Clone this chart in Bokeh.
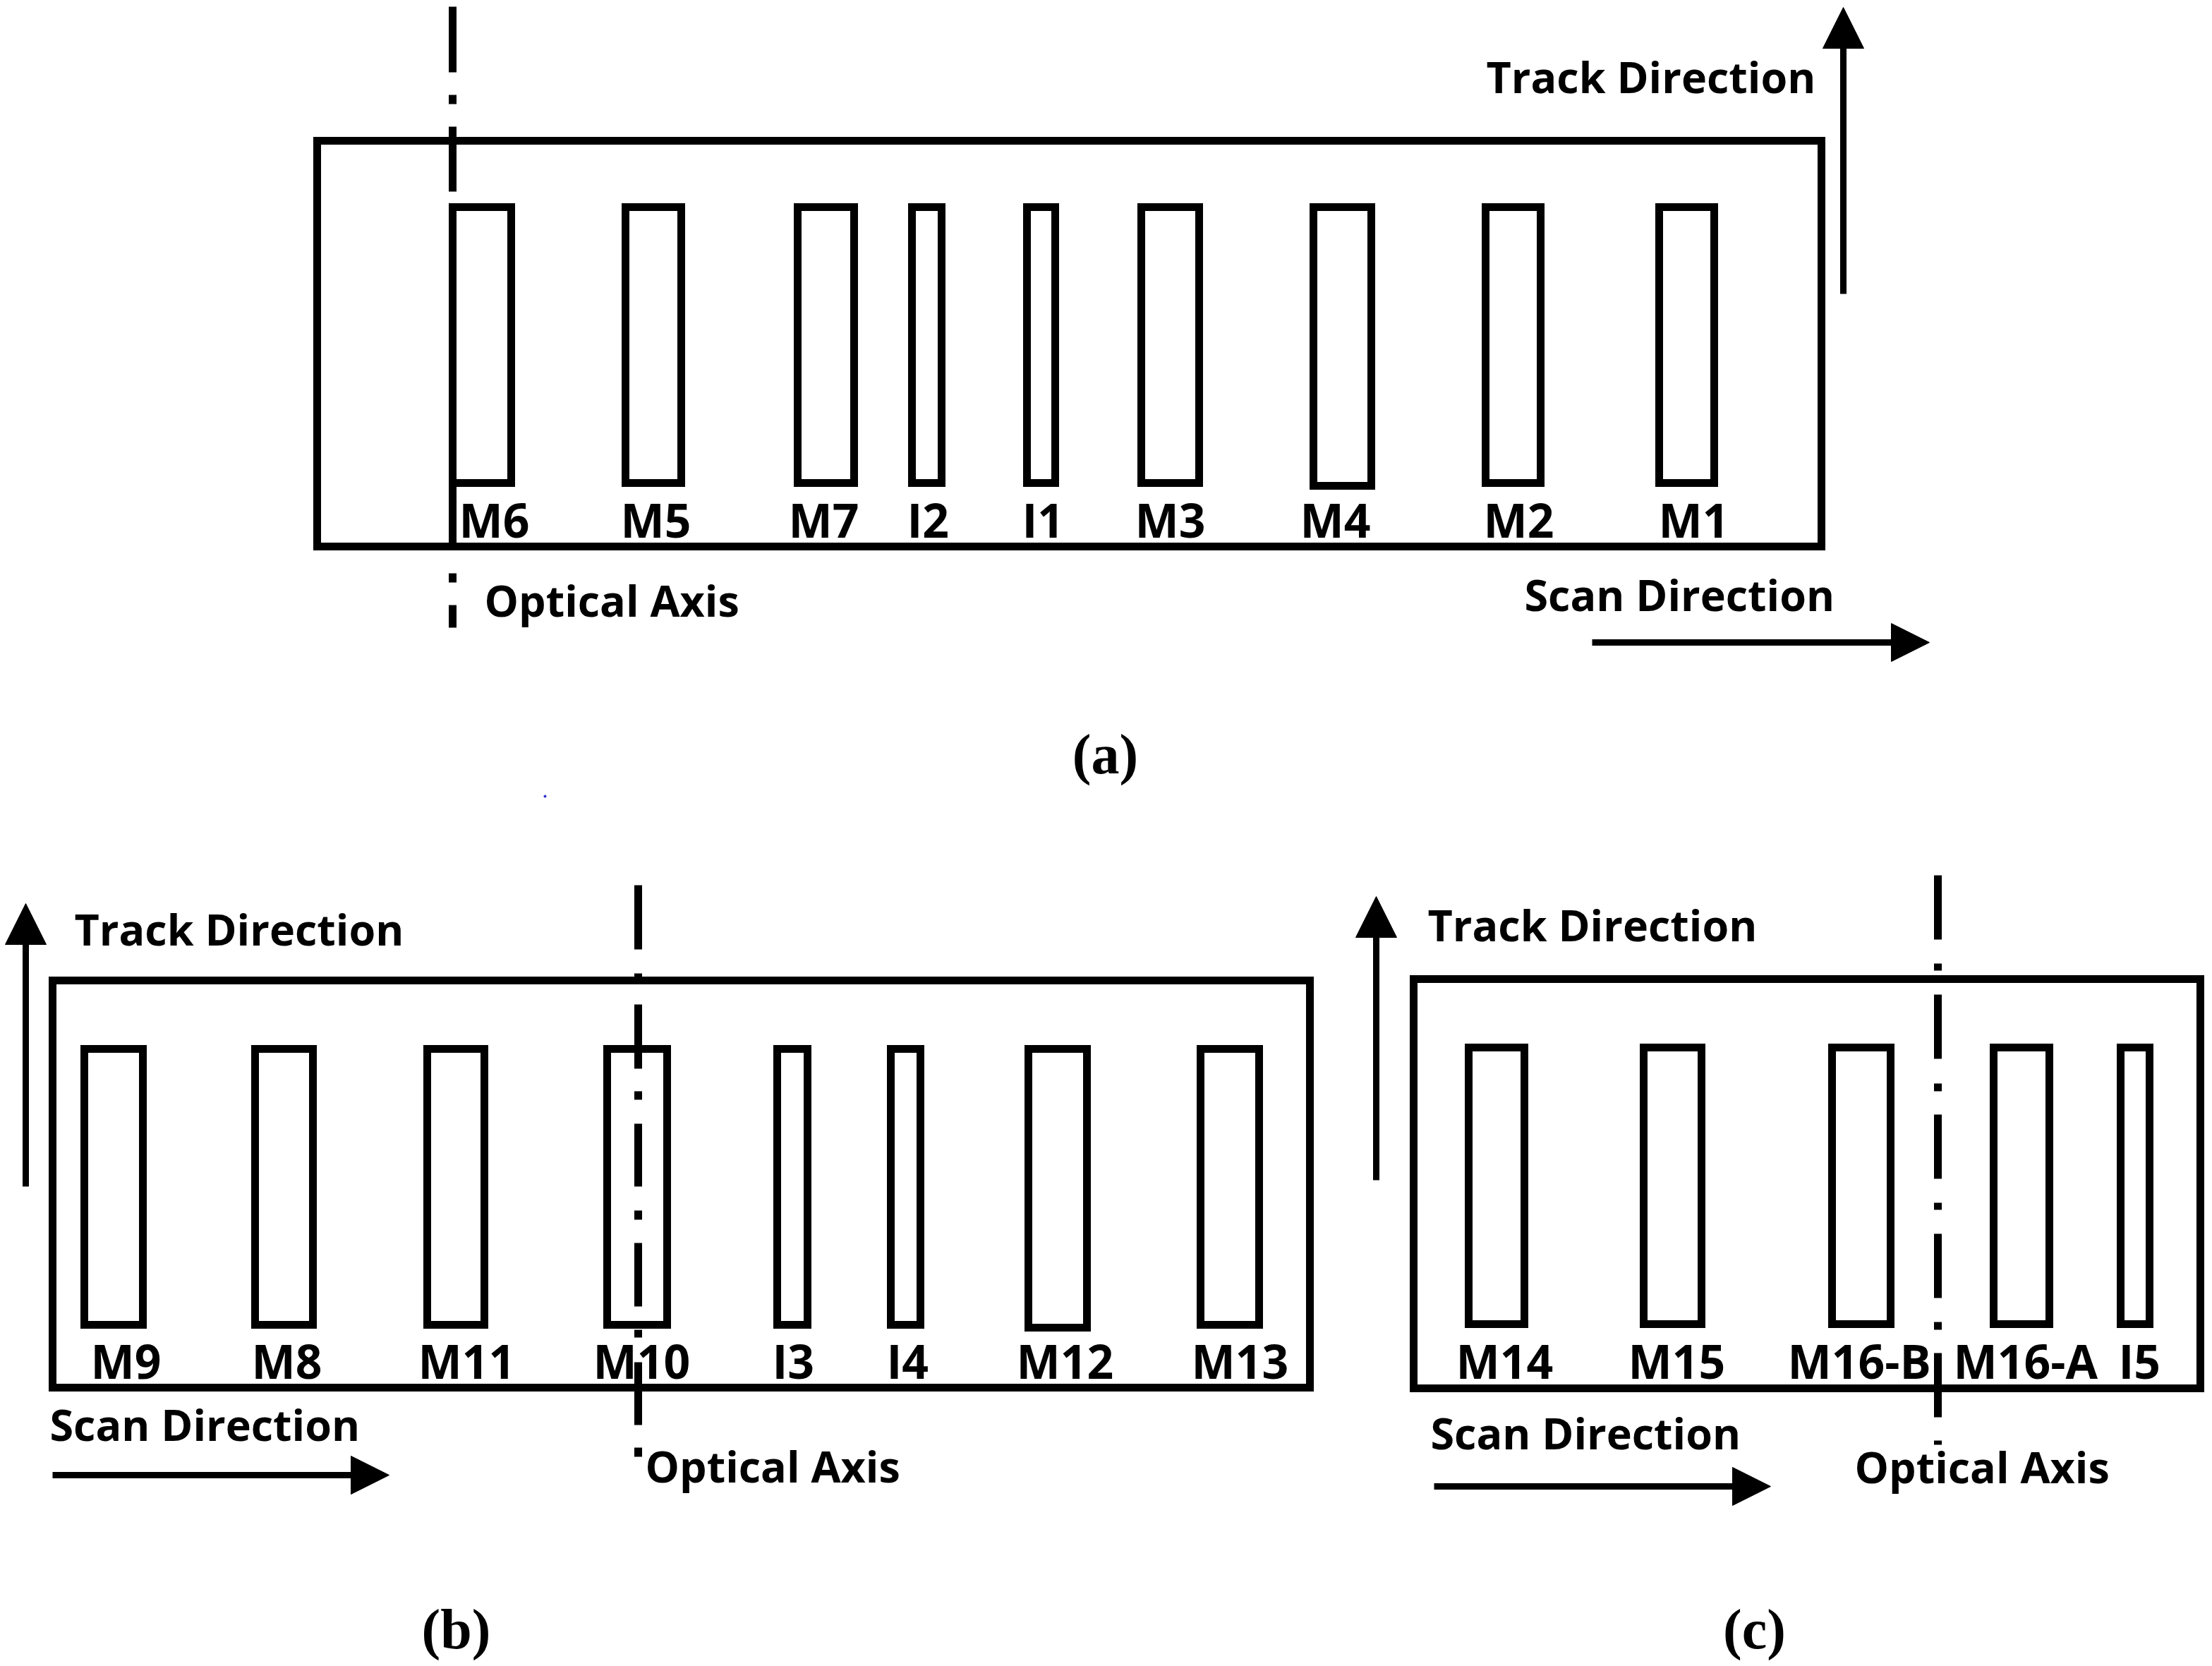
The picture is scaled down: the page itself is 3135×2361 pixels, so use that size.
from bokeh.plotting import figure
from bokeh.models import ColumnDataSource, Arrow, NormalHead
from bokeh.core.properties import value
from bokeh.embed import file_html
from bokeh.resources import INLINE

# Detector strips, per panel
labels_a = ["M6", "M5", "M7", "I2", "I1", "M3", "M4", "M2", "M1"]
left_a = [641, 886, 1130, 1292, 1455, 1617, 1861, 2105, 2351]
right_a = [724, 965, 1210, 1334, 1495, 1699, 1943, 2183, 2429]
bottom_a = [684, 684, 684, 684, 684, 684, 688, 684, 684]
label_x_a = [650, 879, 1117, 1285, 1448, 1608, 1842, 2102, 2350]

labels_b = ["M9", "M8", "M11", "M10", "I3", "I4", "M12", "M13"]
left_b = [119, 361, 605, 860, 1101, 1262, 1457, 1701]
right_b = [202, 443, 686, 945, 1144, 1304, 1540, 1784]
bottom_b = [1877, 1877, 1877, 1877, 1877, 1877, 1881, 1877]
label_x_b = [128, 356, 592, 840, 1094, 1256, 1440, 1688]

labels_c = ["M14", "M15", "M16-B", "M16-A", "I5"]
left_c = [2081, 2329, 2596, 2825, 3005]
right_c = [2160, 2411, 2679, 2904, 3046]
bottom_c = [1876, 1876, 1876, 1876, 1876]
label_x_c = [2063, 2307, 2533, 2768, 3002]

# Focal plane outlines (a, b, c)
plane_left = [449, 74, 2003]
plane_right = [2581, 1856, 3118]
plane_top = [199, 1389, 1387]
plane_bottom = [774, 1966, 1967]
strip_top = [293, 1486, 1484]
label_base = [735, 1927, 1927]

# Optical axis dash-dot pieces
axis_a_x = 641
axis_a_start = [9, 134, 179, 684, 812, 857]
axis_a_end = [102, 147, 271, 774, 825, 889]
axis_b_x = 904
axis_b_start = [1254, 1379, 1423, 1546, 1592, 1715, 1761, 1884, 1930, 2051]
axis_b_end = [1345, 1389, 1514, 1558, 1681, 1728, 1851, 1895, 2019, 2064]
axis_c_x = 2746
axis_c_start = [1240, 1365, 1409, 1535, 1579, 1704, 1748, 1873, 1917, 2041]
axis_c_end = [1331, 1375, 1500, 1546, 1670, 1714, 1839, 1884, 2008, 2047]

# Direction arrows
track_x = [2612, 36, 1950]
track_tail = [416, 1681, 1672]
track_tip = [10, 1280, 1270]
scan_y = [910, 2090, 2106]
scan_tail = [2256, 74, 2032]
scan_tip = [2734, 551, 2509]

# Captions on the diagram
note_text = ["Track Direction", "Scan Direction", "Optical Axis",
             "Track Direction", "Scan Direction", "Optical Axis",
             "Track Direction", "Scan Direction", "Optical Axis"]
note_x = [2106, 2160, 686, 105, 70, 914, 2023, 2027, 2628]
note_y = [108, 842, 850, 1316, 2018, 2077, 1310, 2030, 2078]

panel_text = ["(a)", "(b)", "(c)"]
panel_x = [1566, 646, 2486]
panel_y = [1068, 2308, 2308]

p = figure(width=3127, height=2353, x_range=(0, 3127), y_range=(2353, 0),
           output_backend="svg", toolbar_location=None, min_border=0)
p.axis.visible = False
p.grid.visible = False
p.outline_line_color = None

LW = 11

# optical axis sits under the strips
for ax, start, end in [(axis_a_x, axis_a_start, axis_a_end),
                       (axis_b_x, axis_b_start, axis_b_end),
                       (axis_c_x, axis_c_start, axis_c_end)]:
    p.segment(x0=[ax] * len(start), y0=start, x1=[ax] * len(end), y1=end,
              line_color="black", line_width=LW)

p.quad(left=plane_left, right=plane_right, top=plane_top, bottom=plane_bottom,
       fill_alpha=0, line_color="black", line_width=LW, line_join="miter")

for i, (lf, rt, bt, names, lx) in enumerate([
        (left_a, right_a, bottom_a, labels_a, label_x_a),
        (left_b, right_b, bottom_b, labels_b, label_x_b),
        (left_c, right_c, bottom_c, labels_c, label_x_c)]):
    src = ColumnDataSource(data=dict(left=lf, right=rt, bottom=bt, top=[strip_top[i]] * len(lf),
                                     name=names, lx=lx, ly=[label_base[i]] * len(lf)))
    p.quad(left="left", right="right", top="top", bottom="bottom", source=src,
           fill_alpha=0, line_color="black", line_width=LW, line_join="miter")
    p.text(x="lx", y="ly", text="name", source=src, text_font=value("Open Sans"),
           text_font_style="bold", text_font_size="66px", text_color="black",
           text_baseline="alphabetic")

p.text(x=note_x, y=note_y, text=note_text, text_font=value("Open Sans"),
       text_font_style="bold", text_font_size="61px", text_color="black",
       text_baseline="alphabetic")

p.text(x=panel_x, y=panel_y, text=panel_text, text_font=value("Liberation Serif"),
       text_font_style="bold", text_font_size="80px", text_color="black", text_align="center",
       text_baseline="alphabetic")

for i in range(3):
    p.add_layout(Arrow(end=NormalHead(size=58, fill_color="black", line_color="black", line_width=1),
                       x_start=track_x[i], y_start=track_tail[i], x_end=track_x[i], y_end=track_tip[i],
                       line_color="black", line_width=9))
    p.add_layout(Arrow(end=NormalHead(size=54, fill_color="black", line_color="black", line_width=1),
                       x_start=scan_tail[i], y_start=scan_y[i], x_end=scan_tip[i], y_end=scan_y[i],
                       line_color="black", line_width=9))

# stray blue speck in the source figure
p.scatter(x=[772], y=[1128], size=4, color="#3030d0", line_color=None)

open("out.html", "w").write(file_html(p, INLINE))
